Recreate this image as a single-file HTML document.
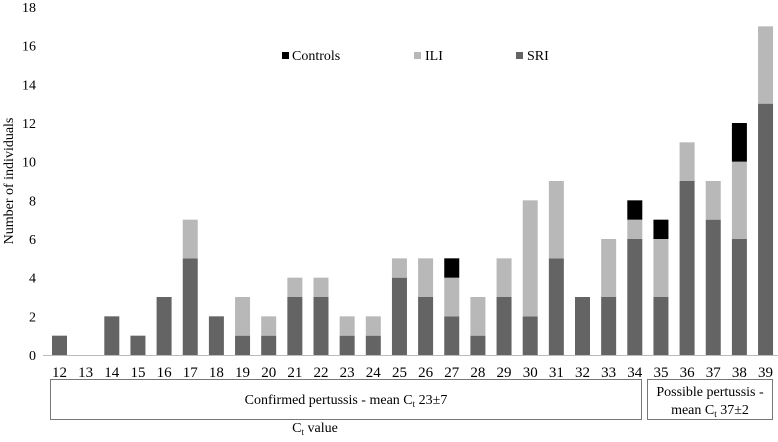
<!DOCTYPE html>
<html><head><meta charset="utf-8"><style>
body{margin:0;background:#fff;}
svg, svg text{font-family:"Liberation Serif","DejaVu Serif",serif;}
</style></head><body>
<svg width="778" height="437" xmlns="http://www.w3.org/2000/svg">
<g id="bars"></g>
<line x1="43" y1="355.5" x2="778" y2="355.5" stroke="#bbb" stroke-width="1"/>
<g font-size="14" text-anchor="end" id="yt"></g>
<g font-size="15" text-anchor="middle" id="xt"></g>
<text transform="translate(13,181) rotate(-90)" font-size="14" text-anchor="middle">Number of individuals</text>
<rect x="50.5" y="379.5" width="591" height="40" fill="none" stroke="#777"/>
<rect x="647.5" y="379.5" width="125" height="40" fill="none" stroke="#777"/>
<text x="346" y="404" font-size="14" text-anchor="middle">Confirmed pertussis - mean C<tspan font-size="9" dy="3">t</tspan><tspan dy="-3"> 23±7</tspan></text>
<text x="710" y="396" font-size="14" text-anchor="middle">Possible pertussis -</text>
<text x="710" y="414" font-size="14" text-anchor="middle">mean C<tspan font-size="9" dy="3">t</tspan><tspan dy="-3"> 37±2</tspan></text>
<text x="315" y="432" font-size="14" text-anchor="middle">C<tspan font-size="9" dy="3">t</tspan><tspan dy="-3"> value</tspan></text>
<rect x="282" y="52" width="7" height="7" fill="#000"/><text x="292" y="60" font-size="14">Controls</text>
<rect x="414" y="52" width="7" height="7" fill="#b8b8b8"/><text x="425" y="60" font-size="14">ILI</text>
<rect x="516" y="52" width="7" height="7" fill="#646464"/><text x="527" y="60" font-size="14">SRI</text>
</svg>
<script>
var d=[[1,0,0],[0,0,0],[2,0,0],[1,0,0],[3,0,0],[5,2,0],[2,0,0],[1,2,0],[1,1,0],[3,1,0],[3,1,0],[1,1,0],[1,1,0],[4,1,0],[3,2,0],[2,2,1],[1,2,0],[3,2,0],[2,6,0],[5,4,0],[3,0,0],[3,3,0],[6,1,1],[3,3,1],[9,2,0],[7,2,0],[6,4,2],[13,4,0]];
var ns="http://www.w3.org/2000/svg",b=document.getElementById("bars"),xt=document.getElementById("xt"),yt=document.getElementById("yt");
var u=348/18,base=355;
function r(x,y,h,c){var e=document.createElementNS(ns,"rect");e.setAttribute("x",x);e.setAttribute("y",y);e.setAttribute("width",15);e.setAttribute("height",h);e.setAttribute("fill",c);b.appendChild(e);}
d.forEach(function(v,i){var cx=59.5+i*26.15,x=cx-7.5,y=base;var cols=["#646464","#b8b8b8","#000"];
for(var k=0;k<3;k++){if(v[k]){var h=v[k]*u;y-=h;r(x,y,h,cols[k]);}}
var t=document.createElementNS(ns,"text");t.setAttribute("x",cx);t.setAttribute("y",377);t.textContent=12+i;xt.appendChild(t);});
for(var j=0;j<=18;j+=2){var t=document.createElementNS(ns,"text");t.setAttribute("x",36);t.setAttribute("y",base-j*u+5);t.textContent=j;yt.appendChild(t);}
</script>
</body></html>
